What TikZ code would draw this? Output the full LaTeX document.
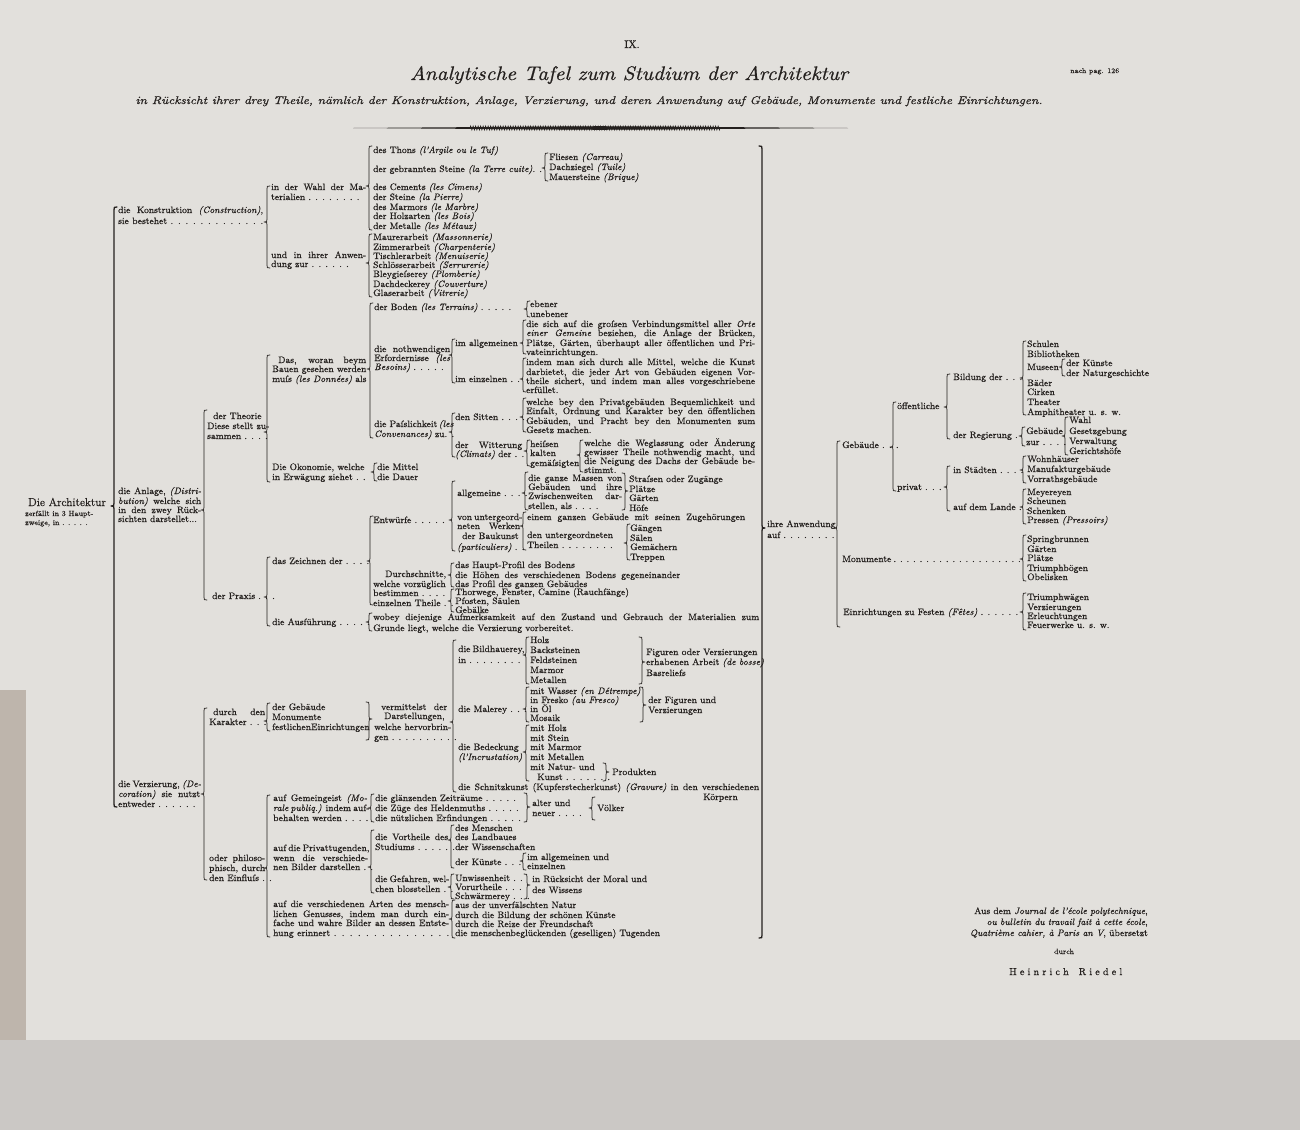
\documentclass[tikz,border=0pt]{standalone}
\usepackage{fontspec}
\setmainfont{Latin Modern Roman}[FakeBold=0.6]
\usetikzlibrary{decorations.pathmorphing}
\definecolor{paper}{RGB}{226,224,220}
\definecolor{ink}{RGB}{36,32,30}
\definecolor{band}{RGB}{203,200,197}
\definecolor{edge}{RGB}{190,181,172}
\newcounter{tn}
\newcommand\Lbl[4][]{\stepcounter{tn}\edef\tnname{n\arabic{tn}}\node[tx,#1,name=\tnname] at (#2,#3) {#4};}
\newcommand\Jst[2]{\makebox[#1pt][s]{#2}}
% \Brc[style]{dir}{x}{ytop}{ybot}{ytip}; dir=1 gives an opening brace, dir=-1 a closing one
\newcommand\Brc[6][]{\draw[br,#1] ({#3+3*(#2)},#4) .. controls (#3,#4) .. (#3,{#4+3}) -- (#3,{#6-3}) .. controls (#3,#6) .. ({#3-3*(#2)},#6) .. controls (#3,#6) .. (#3,{#6+3}) -- (#3,{#5-3}) .. controls (#3,#5) .. ({#3+3*(#2)},#5);}
\begin{document}
\begin{tikzpicture}[x=1pt,y=-1pt,
  tx/.style={anchor=base west,inner sep=0pt,yshift=-3pt,text=ink,font=\fontsize{9.3}{10}\selectfont},
  sm/.style={font=\fontsize{7.6}{8}\selectfont},
  br/.style={draw=ink,line width=0.75pt,line cap=round,line join=round},
  bigbr/.style={line width=1.3pt}]
\useasboundingbox (0,0) rectangle (1300,1130);
\fill[paper] (0,0) rectangle (1300,1130);
\fill[edge] (0,690) rectangle (26,1040);
\fill[band] (0,1040) rectangle (1300,1130);

% ---------- heading ----------
\node[name=ix,anchor=base,inner sep=0pt,text=ink,font=\fontsize{11}{12}\selectfont] at (632,48) {IX.};
\node[name=title,anchor=base,inner sep=0pt,text=ink] at (629,80) {\resizebox{438pt}{14pt}{\itshape Analytische Tafel zum Studium der Architektur}};
\node[name=page,anchor=base west,inner sep=0pt,text=ink,font=\fontsize{7}{8}\selectfont] at (1070,73) {nach pag. 126};
\node[name=subtitle,anchor=base,inner sep=0pt,text=ink] at (589,104) {\resizebox{907pt}{8pt}{\itshape in Rücksicht ihrer drey Theile, nämlich der Konstruktion, Anlage, Verzierung, und deren Anwendung auf Gebäude, Monumente und festliche Einrichtungen.}};
\fill[ink] (353,128) -- (600,126.2) -- (848,128) -- (600,129.8) -- cycle;
\draw[ink,line width=0.6pt,decorate,decoration={zigzag,amplitude=2pt,segment length=2.5pt}] (470,128) -- (720,128);

% ---------- column A ----------
\Lbl[font=\fontsize{11.5}{12}\selectfont]{28}{503}{Die Architektur}
\Lbl[sm]{25}{513}{zerfällt in 3 Haupt-}
\Lbl[sm]{25}{522}{zweige, in . . . . .}

% ---------- column B ----------
\Lbl{118}{210}{\Jst{145}{die Konstruktion \textit{(Construction)},}}
\Lbl{118}{221}{\Jst{145}{sie bestehet . . . . . . . . . . . . .}}
\Lbl{118}{491}{\Jst{83}{die Anlage, \textit{(Distri-}}}
\Lbl{118}{501}{\Jst{83}{\textit{bution)} welche sich}}
\Lbl{118}{510}{\Jst{83}{in den zwey Rück-}}
\Lbl{118}{519}{sichten darstellet...}
\Lbl{118}{784}{\Jst{82}{die Verzierung, \textit{(De-}}}
\Lbl{118}{794}{\Jst{82}{\textit{coration)} sie nutzt}}
\Lbl{118}{804}{entweder . . . . . .}

% ---------- column C ----------
\Lbl{271}{187}{\Jst{95}{in der Wahl der Ma-}}
\Lbl{271}{197}{terialien . . . . . . . .}
\Lbl{271}{255}{\Jst{95}{und in ihrer Anwen-}}
\Lbl{271}{264}{dung zur . . . . . .}
\Lbl{213}{416}{der Theorie}
\Lbl{207}{426}{Diese stellt zu-}
\Lbl{207}{436}{sammen . . . .}
\Lbl{212}{596}{der Praxis . . .}
\Lbl{213}{712}{\Jst{52}{durch den}}
\Lbl{209}{722}{Karakter . . .}
\Lbl{209}{858}{\Jst{56}{oder philoso-}}
\Lbl{209}{868}{\Jst{56}{phisch, durch}}
\Lbl{209}{878}{den Einfluſs . .}

% ---------- column D ----------
\Lbl{278}{360}{\Jst{88}{Das, woran beym}}
\Lbl{272}{369}{Bauen gesehen werden}
\Lbl{272}{379}{muſs \textit{(les Données)} als}
\Lbl{272}{467}{Die Okonomie, welche}
\Lbl{272}{477}{in Erwägung ziehet . .}
\Lbl{272}{561}{das Zeichnen der . . . .}
\Lbl{272}{622}{die Ausführung . . . . .}
\Lbl{272}{707}{der Gebäude}
\Lbl{272}{717}{Monumente}
\Lbl{272}{727}{festlichenEinrichtungen}
\Lbl{273}{798}{\Jst{94}{auf Gemeingeist \textit{(Mo-}}}
\Lbl{273}{808}{\Jst{94}{\textit{rale publiq.)} indem auf-}}
\Lbl{273}{818}{behalten werden . . . .}
\Lbl{273}{848}{\Jst{95}{auf die Privattugenden,}}
\Lbl{273}{858}{\Jst{95}{wenn die verschiede-}}
\Lbl{273}{867}{nen Bilder darstellen . .}
\Lbl{273}{904}{\Jst{176}{auf die verschiedenen Arten des mensch-}}
\Lbl{273}{914}{\Jst{176}{lichen Genusses, indem man durch ein-}}
\Lbl{273}{923}{\Jst{176}{fache und wahre Bilder an dessen Entste-}}
\Lbl{273}{933}{\Jst{176}{hung erinnert . . . . . . . . . . . . . . .}}

% ---------- column E ----------
\Lbl{373}{150}{des Thons \textit{(l'Argile ou le Tuf)}}
\Lbl{373}{169}{der gebrannten Steine \textit{(la Terre cuite)}. .}
\Lbl{549}{157}{Fliesen \textit{(Carreau)}}
\Lbl{549}{167}{Dachziegel \textit{(Tuile)}}
\Lbl{549}{177}{Mauersteine \textit{(Brique)}}
\Lbl{373}{187}{des Cements \textit{(les Cimens)}}
\Lbl{373}{197}{der Steine \textit{(la Pierre)}}
\Lbl{373}{207}{des Marmors \textit{(le Marbre)}}
\Lbl{373}{216}{der Holzarten \textit{(les Bois)}}
\Lbl{373}{226}{der Metalle \textit{(les Métaux)}}
\Lbl{373}{237}{Maurerarbeit \textit{(Massonnerie)}}
\Lbl{373}{247}{Zimmerarbeit \textit{(Charpenterie)}}
\Lbl{373}{256}{Tischlerarbeit \textit{(Menuiserie)}}
\Lbl{373}{265}{Schlösserarbeit \textit{(Serrurerie)}}
\Lbl{373}{274}{Bleygieſserey \textit{(Plomberie)}}
\Lbl{373}{284}{Dachdeckerey \textit{(Couverture)}}
\Lbl{373}{293}{Glaserarbeit \textit{(Vitrerie)}}
\Lbl{374}{307}{der Boden \textit{(les Terrains)} . . . . .}
\Lbl{374}{349}{\Jst{76}{die nothwendigen}}
\Lbl{374}{358}{\Jst{76}{Erfordernisse \textit{(les}}}
\Lbl{374}{367}{\textit{Besoins)} . . . . .}
\Lbl{374}{424}{die Paſslichkeit\,\textit{(les}}
\Lbl{374}{434}{\textit{Convenances)} zu. .}
\Lbl{377}{467}{die Mittel}
\Lbl{377}{477}{die Dauer}
\Lbl{373}{520}{Entwürfe . . . . .}
\Lbl{385}{574}{Durchschnitte,}
\Lbl{373}{584}{welche vorzüglich}
\Lbl{373}{593}{bestimmen . . . .}
\Lbl{373}{603}{einzelnen Theile . .}
\Lbl{373}{617}{\Jst{386}{wobey diejenige Aufmerksamkeit auf den Zustand und Gebrauch der Materialien zum}}
\Lbl{373}{628}{Grunde liegt, welche die Verzierung vorbereitet.}
\Lbl{381}{707}{\Jst{66}{vermittelst der}}
\Lbl{384}{716}{Darstellungen,}
\Lbl{374}{727}{welche hervorbrin-}
\Lbl{374}{737}{gen . . . . . . . . . .}
\Lbl{375}{798}{die glänzenden Zeiträume . . . . .}
\Lbl{375}{808}{die Züge des Heldenmuths . . . . .}
\Lbl{375}{818}{die nützlichen Erfindungen . . . . .}
\Lbl{375}{837}{\Jst{73}{die Vortheile des}}
\Lbl{375}{847}{Studiums . . . . . . .}
\Lbl{375}{879}{\Jst{73}{die Gefahren, wel-}}
\Lbl{375}{889}{chen blosstellen . .}

% ---------- column F ----------
\Lbl{455}{343}{im allgemeinen}
\Lbl{455}{379}{im einzelnen . .}
\Lbl{455}{417}{den Sitten . . . .}
\Lbl{455}{445}{\Jst{67}{der Witterung}}
\Lbl{455}{454}{\textit{(Climats)} der . .}
\Lbl{457}{493}{allgemeine . . . .}
\Lbl{457}{517}{\Jst{63}{von untergeord-}}
\Lbl{457}{526}{\Jst{63}{neten Werken}}
\Lbl{462}{536}{der Baukunst}
\Lbl{457}{547}{\textit{(particuliers)} . .}
\Lbl{455}{565}{das Haupt-Profil des Bodens}
\Lbl{455}{575}{\Jst{225}{die Höhen des verschiedenen Bodens gegeneinander}}
\Lbl{455}{584}{das Profil des ganzen Gebäudes}
\Lbl{455}{592}{Thorwege, Fenster, Camine (Rauchfänge)}
\Lbl{455}{601}{Pfosten, Säulen}
\Lbl{455}{610}{Gebälke}
\Lbl{458}{649}{\Jst{64}{die Bildhauerey,}}
\Lbl{458}{660}{in . . . . . . . .}
\Lbl{458}{709}{die Malerey . . .}
\Lbl{458}{747}{die Bedeckung}
\Lbl{458}{757}{\textit{(l'Incrustation)}}
\Lbl{458}{787}{\Jst{301}{die Schnitzkunst (Kupferstecherkunst) \textit{(Gravure)} in den verschiedenen}}
\Lbl{703}{797}{Körpern}
\Lbl{455}{828}{des Menschen}
\Lbl{455}{837}{des Landbaues}
\Lbl{455}{847}{der Wissenschaften}
\Lbl{455}{862}{der Künste . . .}
\Lbl{455}{878}{Unwissenheit . .}
\Lbl{455}{887}{Vorurtheile . . .}
\Lbl{455}{896}{Schwärmerey . . .}
\Lbl{455}{905}{aus der unverfälschten Natur}
\Lbl{455}{915}{durch die Bildung der schönen Künste}
\Lbl{455}{924}{durch die Reize der Freundschaft}
\Lbl{455}{933}{die menschenbeglückenden (geselligen) Tugenden}

% ---------- column G ----------
\Lbl{530}{304}{ebener}
\Lbl{530}{314}{unebener}
\Lbl{526}{324}{\Jst{229}{die sich auf die groſsen Verbindungsmittel aller \textit{Orte}}}
\Lbl{526}{333}{\Jst{229}{\textit{einer Gemeine} beziehen, die Anlage der Brücken,}}
\Lbl{526}{343}{\Jst{229}{Plätze, Gärten, überhaupt aller öffentlichen und Pri-}}
\Lbl{526}{352}{vateinrichtungen.}
\Lbl{526}{362}{\Jst{229}{indem man sich durch alle Mittel, welche die Kunst}}
\Lbl{526}{372}{\Jst{229}{darbietet, die jeder Art von Gebäuden eigenen Vor-}}
\Lbl{526}{381}{\Jst{229}{theile sichert, und indem man alles vorgeschriebene}}
\Lbl{526}{390}{erfüllet.}
\Lbl{526}{402}{\Jst{229}{welche bey den Privatgebäuden Bequemlichkeit und}}
\Lbl{526}{411}{\Jst{229}{Einfalt, Ordnung und Karakter bey den öffentlichen}}
\Lbl{526}{421}{\Jst{229}{Gebäuden, und Pracht bey den Monumenten zum}}
\Lbl{526}{430}{Gesetz machen.}
\Lbl{530}{444}{heiſsen}
\Lbl{530}{453}{kalten}
\Lbl{530}{463}{gemäſsigten}
\Lbl{584}{443}{\Jst{171}{welche die Weglassung oder Änderung}}
\Lbl{584}{452}{\Jst{171}{gewisser Theile nothwendig macht, und}}
\Lbl{584}{461}{\Jst{171}{die Neigung des Dachs der Gebäude be-}}
\Lbl{584}{470}{stimmt.}
\Lbl{528}{478}{\Jst{94}{die ganze Massen von}}
\Lbl{528}{487}{\Jst{94}{Gebäuden und ihre}}
\Lbl{528}{496}{\Jst{94}{Zwischenweiten dar-}}
\Lbl{528}{506}{stellen, als . . . .}
\Lbl{629}{479}{Straſsen oder Zugänge}
\Lbl{629}{489}{Plätze}
\Lbl{629}{498}{Gärten}
\Lbl{629}{508}{Höfe}
\Lbl{527}{517}{\Jst{218}{einem ganzen Gebäude mit seinen Zugehörungen}}
\Lbl{527}{535}{den untergeordneten}
\Lbl{527}{545}{Theilen . . . . . . . .}
\Lbl{630}{528}{Gängen}
\Lbl{630}{538}{Sälen}
\Lbl{630}{547}{Gemächern}
\Lbl{630}{557}{Treppen}
\Lbl{530}{640}{Holz}
\Lbl{530}{650}{Backsteinen}
\Lbl{530}{660}{Feldsteinen}
\Lbl{530}{670}{Marmor}
\Lbl{530}{680}{Metallen}
\Lbl{646}{652}{Figuren oder Verzierungen}
\Lbl{646}{662}{erhabenen Arbeit \textit{(de bosse)}}
\Lbl{646}{673}{Basreliefs}
\Lbl{530}{691}{mit Wasser \textit{(en Détrempe)}}
\Lbl{530}{700}{in Fresko \textit{(au Fresco)}}
\Lbl{530}{709}{in Öl}
\Lbl{530}{718}{Mosaik}
\Lbl{648}{700}{der Figuren und}
\Lbl{648}{710}{Verzierungen}
\Lbl{530}{728}{mit Holz}
\Lbl{530}{738}{mit Stein}
\Lbl{530}{747}{mit Marmor}
\Lbl{530}{757}{mit Metallen}
\Lbl{530}{767}{mit Natur- und}
\Lbl{537}{777}{Kunst . . . . . . .}
\Lbl{612}{772}{Produkten}
\Lbl{532}{803}{alter und}
\Lbl{532}{813}{neuer . . . .}
\Lbl{597}{808}{Völker}
\Lbl{527}{857}{im allgemeinen und}
\Lbl{527}{866}{einzelnen}
\Lbl{532}{879}{in Rücksicht der Moral und}
\Lbl{532}{890}{des Wissens}

% ---------- right side ----------
\Lbl{767}{524}{ihre Anwendung}
\Lbl{767}{535}{auf . . . . . . . .}
\Lbl{842}{445}{Gebäude . . .}
\Lbl{842}{559}{\Jst{176}{Monumente . . . . . . . . . . . . . . . . . . . .}}
\Lbl{843}{612}{\Jst{175}{Einrichtungen zu Festen \textit{(Fêtes)} . . . . . .}}
\Lbl{897}{406}{öffentliche}
\Lbl{897}{487}{privat . . .}
\Lbl{953}{377}{Bildung der . . .}
\Lbl{953}{435}{der Regierung .}
\Lbl{953}{470}{in Städten . . . .}
\Lbl{953}{507}{auf dem Lande . .}
\Lbl{1027}{344}{Schulen}
\Lbl{1027}{354}{Bibliotheken}
\Lbl{1027}{367}{Museen}
\Lbl{1027}{383}{Bäder}
\Lbl{1027}{392}{Cirken}
\Lbl{1027}{402}{Theater}
\Lbl{1027}{412}{Amphitheater u. s. w.}
\Lbl{1066}{363}{der Künste}
\Lbl{1066}{373}{der Naturgeschichte}
\Lbl{1026}{431}{Gebäude}
\Lbl{1026}{442}{zur . . . .}
\Lbl{1069}{420}{Wahl}
\Lbl{1069}{431}{Gesetzgebung}
\Lbl{1069}{441}{Verwaltung}
\Lbl{1069}{451}{Gerichtshöfe}
\Lbl{1027}{459}{Wohnhäuser}
\Lbl{1027}{469}{Manufakturgebäude}
\Lbl{1027}{479}{Vorrathsgebäude}
\Lbl{1027}{492}{Meyereyen}
\Lbl{1027}{501}{Scheunen}
\Lbl{1027}{511}{Schenken}
\Lbl{1027}{520}{Pressen \textit{(Pressoirs)}}
\Lbl{1027}{539}{Springbrunnen}
\Lbl{1027}{549}{Gärten}
\Lbl{1027}{558}{Plätze}
\Lbl{1027}{568}{Triumphbögen}
\Lbl{1027}{577}{Obelisken}
\Lbl{1027}{597}{Triumphwägen}
\Lbl{1027}{607}{Verzierungen}
\Lbl{1027}{616}{Erleuchtungen}
\Lbl{1027}{625}{Feuerwerke u. s. w.}

% ---------- source note ----------
\Lbl[anchor=base east]{1148}{911}{Aus dem \textit{Journal de l'école polytechnique},}
\Lbl[anchor=base east]{1148}{922}{\textit{ou bulletin du travail fait à cette école},}
\Lbl[anchor=base east]{1148}{933}{\textit{Quatrième cahier, à Paris an V}, übersetzt}
\Lbl[anchor=base,sm]{1064}{951}{durch}
\Lbl[anchor=base west,font=\fontsize{10}{11}\selectfont]{1009}{972}{\makebox[113pt][s]{H e i n r i c h\quad R i e d e l}}

% ---------- braces ----------
\Brc[bigbr]{1}{114}{207}{807}{506}
\Brc{1}{267}{186}{268}{222}
\Brc{1}{369}{146}{230}{186}
\Brc{1}{545}{153}{181}{168}
\Brc{1}{369}{234}{297}{263}
\Brc{1}{204}{410}{600}{510}
\Brc{1}{267}{355}{482}{432}
\Brc{1}{370}{303}{438}{369}
\Brc{1}{527}{301}{317}{309}
\Brc{1}{452}{339}{383}{355}
\Brc{1}{523}{320}{354}{343}
\Brc{1}{523}{358}{392}{379}
\Brc{1}{452}{413}{457}{432}
\Brc{1}{523}{398}{432}{417}
\Brc{1}{527}{440}{466}{451}
\Brc{1}{580}{440}{472}{455}
\Brc{1}{374}{463}{481}{472}
\Brc{1}{267}{557}{626}{597}
\Brc{1}{370}{516}{605}{561}
\Brc{1}{452}{481}{551}{520}
\Brc{1}{525}{472}{510}{493}
\Brc{-1}{625}{473}{510}{491}
\Brc{1}{523}{512}{550}{526}
\Brc{1}{627}{524}{560}{543}
\Brc{1}{451}{563}{587}{575}
\Brc{1}{451}{589}{612}{601}
\Brc{1}{369}{613}{631}{622}
\Brc{1}{204}{708}{880}{794}
\Brc{1}{267}{703}{731}{721}
\Brc{-1}{369}{702}{740}{719}
\Brc{1}{453}{640}{792}{722}
\Brc{1}{526}{637}{684}{655}
\Brc{-1}{642}{637}{684}{662}
\Brc{1}{526}{687}{722}{709}
\Brc{-1}{643}{687}{722}{705}
\Brc{1}{526}{725}{781}{752}
\Brc{-1}{606}{763}{781}{772}
\Brc{1}{267}{795}{937}{868}
\Brc{1}{371}{794}{822}{808}
\Brc{-1}{527}{793}{822}{807}
\Brc{1}{592}{797}{820}{808}
\Brc{1}{371}{830}{893}{867}
\Brc{1}{451}{825}{868}{840}
\Brc{1}{523}{853}{870}{861}
\Brc{1}{451}{874}{899}{887}
\Brc{-1}{527}{874}{899}{885}
\Brc{1}{452}{900}{938}{919}
\Brc[bigbr]{-1}{762}{146}{938}{528}
\Brc{1}{837}{441}{627}{528}
\Brc{1}{893}{402}{491}{447}
\Brc{1}{947}{374}{439}{407}
\Brc{1}{1023}{341}{415}{378}
\Brc{1}{1062}{359}{376}{367}
\Brc{1}{1022}{427}{446}{436}
\Brc{1}{1065}{417}{455}{436}
\Brc{1}{947}{466}{511}{487}
\Brc{1}{1023}{456}{483}{470}
\Brc{1}{1023}{489}{524}{507}
\Brc{1}{1023}{535}{581}{559}
\Brc{1}{1023}{593}{630}{612}
\end{tikzpicture}
\end{document}
